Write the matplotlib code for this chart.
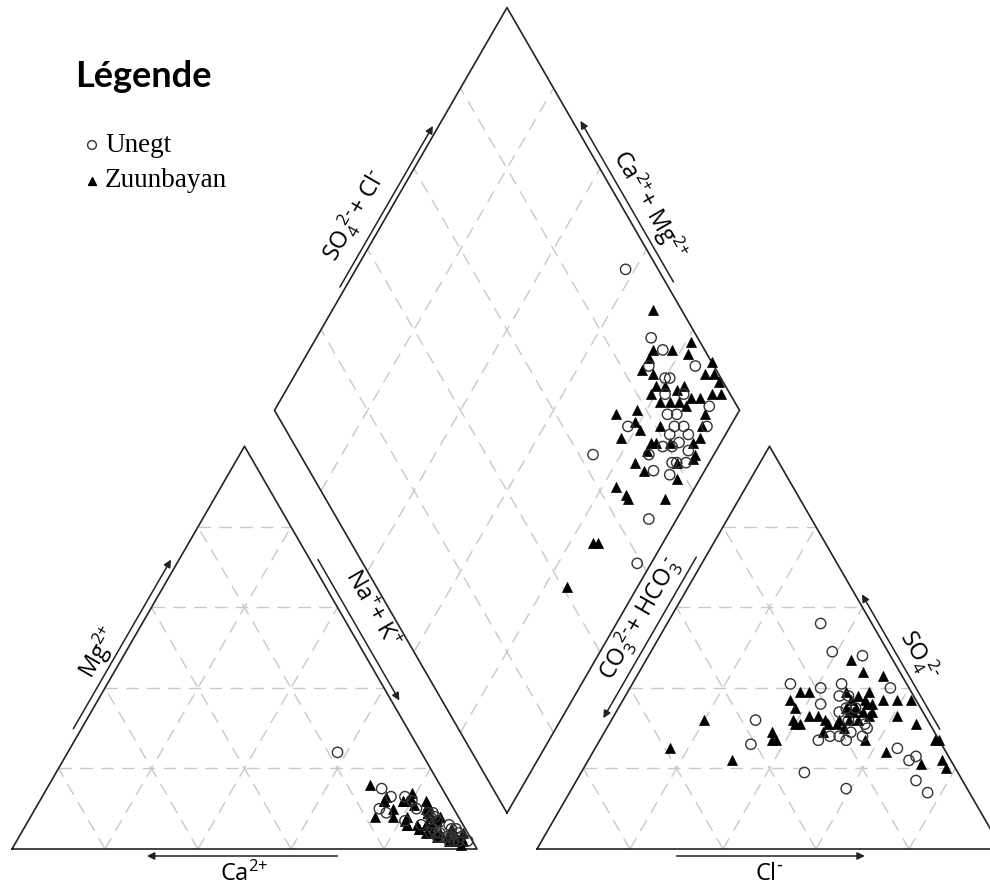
import numpy as np
import matplotlib.pyplot as plt

plt.rcParams['font.family'] = ['Open Sans', 'DejaVu Sans']
plt.rcParams['mathtext.default'] = 'regular'

# ---- data, meq % ----
# Unegt
unegt_ca = [12, 8, 4, 5, 7, 5, 12, 9, 16, 1, 7, 2, 6, 5, 6, 18, 15, 13, 2, 4, 9,
            8, 8, 3, 2, 6, 3, 5, 3, 7, 5]
unegt_mg = [7, 12, 3, 9, 3, 7, 13, 6, 10, 2, 4, 5, 9, 2, 8, 24, 9, 15, 3, 2, 13,
            4, 10, 2, 4, 4, 6, 3, 5, 5, 8]
unegt_so4 = [56, 49, 48, 41, 40, 36, 41, 40, 32, 26, 27, 28, 28, 27, 25, 23, 22, 17, 14, 19, 15,
             38, 38, 34, 35, 35, 32, 31, 28, 29, 30]
unegt_cl = [33, 39, 46, 34, 41, 43, 45, 56, 31, 33, 47, 49, 56, 53, 65, 70, 69, 73, 77, 48, 59,
            46, 48, 48, 49, 51, 51, 55, 51, 53, 56]

# Zuunbayan
zuun_ca = [10, 6, 8, 5, 9, 6, 14, 6, 7, 13, 2, 10, 9, 12, 6, 8, 1, 10, 5, 6, 7, 8,
           14, 12, 2, 7, 3, 13, 5, 4, 11, 18, 6, 3, 14, 10, 4, 3, 8, 6, 3, 10, 7,
           15, 3, 12, 5, 4, 8, 6, 5, 4]
zuun_mg = [5, 9, 6, 12, 4, 8, 8, 10, 6, 13, 3, 5, 12, 7, 9, 6, 4, 12, 2, 9, 4, 13,
           12, 6, 2, 14, 1, 10, 11, 2, 8, 8, 8, 2, 12, 6, 8, 3, 4, 9, 4, 12, 3,
           16, 5, 6, 7, 2, 11, 4, 3, 8]
zuun_so4 = [25, 32, 22, 27, 29, 27, 32, 31, 31, 37, 35, 33, 39, 29, 33, 39, 31, 32, 31, 32, 30, 32,
            27, 35, 34, 32, 34, 39, 37, 35, 24, 34, 38, 33, 34, 36, 37, 36, 47, 39, 44, 37, 21,
            33, 43, 37, 31, 22, 20, 37, 27, 27]
zuun_cl = [16, 20, 31, 37, 36, 38, 39, 40, 41, 36, 38, 42, 37, 47, 44, 39, 47, 46, 49, 49, 51, 51,
           57, 49, 50, 53, 51, 47, 49, 51, 63, 53, 50, 55, 55, 53, 52, 54, 44, 52, 48, 56, 72,
           61, 53, 59, 66, 76, 78, 62, 72, 73]

# ---- geometry (pixel units) ----
S = 465.0
H = S * np.sqrt(3) / 2
cat0 = np.array([12.0, 849.0])
an0 = np.array([537.0, 849.0])
dbot = np.array([507.0, 813.0])
u1 = np.array([-S / 2, -H])
u2 = np.array([S / 2, -H])

outline = '#222222'
gridc = '#c8c8c8'


def tri_xy(origin, top, right):
    top = np.asarray(top) / 100.0
    right = np.asarray(right) / 100.0
    return origin[0] + S * (right + top / 2), origin[1] - H * top


def diamond_xy(nak, a):
    m = 1 - np.asarray(nak) / 100.0
    a = np.asarray(a) / 100.0
    return dbot[0] + m * u1[0] + a * u2[0], dbot[1] + m * u1[1] + a * u2[1]


fig = plt.figure(figsize=(9.9, 8.86), dpi=100)
ax = fig.add_axes([0, 0, 1, 1])
ax.set_xlim(0, 990)
ax.set_ylim(886, 0)
ax.axis('off')

ticks = [0.2, 0.4, 0.6, 0.8]
dash = dict(color=gridc, lw=1.0, ls=(0, (9, 6)), zorder=1)


def tri_frame(o):
    A, B, C = o, o + np.array([S, 0]), o + np.array([S / 2, -H])
    for t in ticks:
        for p, q in [(A + t * (C - A), B + t * (C - B)),
                     (A + t * (B - A), C + t * (B - C)),
                     (B + t * (A - B), C + t * (A - C))]:
            ax.plot([p[0], q[0]], [p[1], q[1]], **dash)
    P = np.array([A, B, C, A])
    ax.plot(P[:, 0], P[:, 1], color=outline, lw=1.2, zorder=2)
    return A, B, C


cA, cB, cC = tri_frame(cat0)
aA, aB, aC = tri_frame(an0)

dL, dR, dT = dbot + u1, dbot + u2, dbot + u1 + u2
for t in ticks:
    for p, q in [(dbot + t * u1, dbot + t * u1 + u2), (dbot + t * u2, dbot + t * u2 + u1)]:
        ax.plot([p[0], q[0]], [p[1], q[1]], **dash)
P = np.array([dbot, dR, dT, dL, dbot])
ax.plot(P[:, 0], P[:, 1], color=outline, lw=1.2, zorder=2)


def side_arrow(P, Q, s0, s1, centre, text, off=7, toff=23, tpos=0.5):
    d = Q - P
    u = d / np.hypot(*d)
    n = np.array([-u[1], u[0]])
    if np.dot(n, (P + Q) / 2 - centre) < 0:
        n = -n
    tail = P + s0 * d + off * n
    head = P + s1 * d + off * n
    ax.annotate('', xy=head, xytext=tail,
                arrowprops=dict(arrowstyle='-|>', color=outline, lw=1.1,
                                mutation_scale=11, shrinkA=0, shrinkB=0))
    ang = np.degrees(np.arctan2(-u[1], u[0]))
    if ang > 90:
        ang -= 180
    elif ang <= -90:
        ang += 180
    lp = P + tpos * d + toff * n
    ax.text(lp[0], lp[1], text, rotation=ang, rotation_mode='anchor',
            ha='center', va='center', fontsize=17, color='black')


ccen = (cA + cB + cC) / 3
acen = (aA + aB + aC) / 3
dcen = (dL + dR) / 2

side_arrow(cA, cB, 0.70, 0.29, ccen, r'Ca$^{2{+}}$', toff=25)
side_arrow(cA, cC, 0.29, 0.71, ccen, r'Mg$^{2{+}}$', toff=23, tpos=0.46)
side_arrow(cC, cB, 0.29, 0.64, ccen, r'Na$^{+}$+ K$^{+}$', off=7, toff=28, tpos=0.44)
side_arrow(aA, aB, 0.30, 0.705, acen, r'Cl$^{\text{-}}$', toff=25)
side_arrow(aB, aC, 0.29, 0.625, acen, r'SO$_4^{\ 2\text{-}}$', off=6, toff=25, tpos=0.45)
side_arrow(aA, aC, 0.715, 0.315, acen, r'CO$_3^{\ 2\text{-}}$+ HCO$_3^{\ \text{-}}$',
           off=8, toff=26, tpos=0.54)
side_arrow(dL, dT, 0.30, 0.70, dcen, r'SO$_4^{\ 2\text{-}}$+ Cl$^{\text{-}}$', off=5, toff=28, tpos=0.45)
side_arrow(dT, dR, 0.69, 0.29, dcen, r'Ca$^{2{+}}$+ Mg$^{2{+}}$', off=7, toff=24, tpos=0.52)

# ---- samples ----
groups = [
    (zuun_ca, zuun_mg, zuun_so4, zuun_cl,
     dict(marker='^', s=52, c='black', edgecolors='black', linewidths=0.5, zorder=4)),
    (unegt_ca, unegt_mg, unegt_so4, unegt_cl,
     dict(marker='o', s=55, facecolors='none', edgecolors='#333333', linewidths=1.0, zorder=5)),
]
for ca, mg, so4, cl, kw in groups:
    ca, mg, so4, cl = map(np.array, (ca, mg, so4, cl))
    nak = 100 - ca - mg
    x, y = tri_xy(cat0, mg, nak)
    ax.scatter(x, y, **kw)
    x, y = tri_xy(an0, so4, cl)
    ax.scatter(x, y, **kw)
    x, y = diamond_xy(nak, so4 + cl)
    ax.scatter(x, y, **kw)

# ---- legend ----
ax.text(75, 87, 'Légende', fontsize=26, fontweight='bold', family='Lato',
        va='baseline', color='black')
ax.scatter([92], [145], marker='o', s=40, facecolors='none', edgecolors='#333333', linewidths=1.0)
ax.scatter([92], [181], marker='^', s=32, c='black')
ax.text(105, 152, 'Unegt', fontsize=19.5, family='Liberation Serif', va='baseline')
ax.text(105, 187, 'Zuunbayan', fontsize=19.5, family='Liberation Serif', va='baseline')

fig.savefig('out.png', dpi=100)
